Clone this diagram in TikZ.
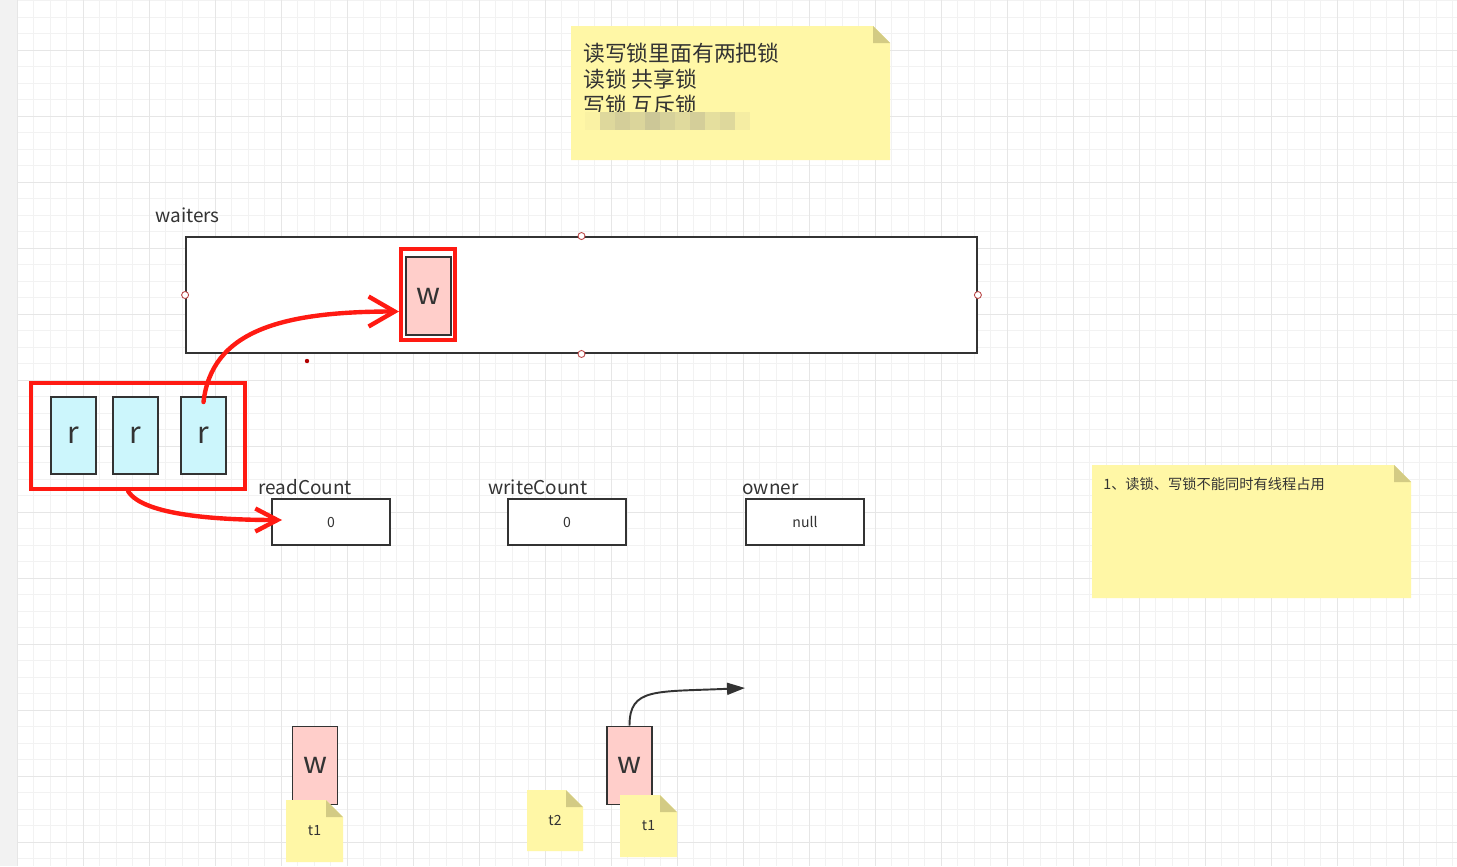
\documentclass[tikz,border=0pt]{standalone}
\usepackage{fontspec}
\setmainfont{Noto Sans CJK SC}
\usetikzlibrary{arrows.meta}

\definecolor{ink}{HTML}{333333}
\definecolor{gridminor}{HTML}{F2F2F2}
\definecolor{gridmajor}{HTML}{E6E6E6}
\definecolor{sidebar}{HTML}{F2F2F2}
\definecolor{notefill}{HTML}{FFF7A6}
\definecolor{notefold}{HTML}{D3CB84}
\definecolor{wpink}{HTML}{FFCECA}
\definecolor{rcyan}{HTML}{CCF6FC}
\definecolor{penred}{HTML}{FF1A12}

% sticky note with folded corner: name, x1, y1, x2, y2
\newcommand{\stickynote}[5]{%
  \fill[notefill] (#2,#3) -- ({#4-17},#3) -- (#4,{#3+17}) -- (#4,#5) -- (#2,#5) -- cycle;
  \fill[notefold] ({#4-17},#3) -- ({#4-17},{#3+17}) -- (#4,{#3+17}) -- cycle;
  \coordinate (#1) at ({(#2+#4)/2},{(#3+#5)/2});
}

\begin{document}
\begin{tikzpicture}[
    x=0.02cm, y=-0.02cm,
    >=Stealth,
    every node/.style={text=ink, inner sep=0pt},
    box/.style={draw=ink, line width=1.1pt, fill=white},
    wbox/.style={box, fill=wpink, minimum width=0.9cm, minimum height=1.56cm,
                 font=\fontsize{17}{17}\selectfont},
    rbox/.style={box, fill=rcyan, minimum width=0.9cm, minimum height=1.54cm,
                 font=\fontsize{17}{17}\selectfont},
    countbox/.style={box, minimum width=2.36cm, minimum height=0.92cm,
                     font=\fontsize{8}{8}\selectfont},
    fieldname/.style={anchor=base west, font=\fontsize{10.8}{10.8}\selectfont},
    redframe/.style={draw=penred, line width=2.3pt},
    redpen/.style={penred, line width=2.5pt, line cap=round, line join=round},
    handle/.style={circle, draw=red!45!gray, fill=white, line width=0.5pt,
                   minimum size=0.14cm},
    notetext/.style={font=\fontsize{8}{8}\selectfont}
]
\useasboundingbox (0,0) rectangle (1457,866);

% canvas grid
\fill[white] (0,0) rectangle (1457,866);
\foreach \x in {17,33.5,...,1457}
    \draw[gridminor, line width=0.45pt] (\x,0) -- (\x,866);
\foreach \y in {0.5,17,...,866}
    \draw[gridminor, line width=0.45pt] (17,\y) -- (1457,\y);
\foreach \x in {17,83,...,1457}
    \draw[gridmajor, line width=0.5pt] (\x,0) -- (\x,866);
\foreach \y in {50,116,...,866}
    \draw[gridmajor, line width=0.5pt] (17,\y) -- (1457,\y);
\fill[sidebar] (0,0) rectangle (17,866);

% top note
\stickynote{lognote}{571}{26}{890}{160}
\node[anchor=north west, align=left, font=\fontsize{12.4}{14.7}\selectfont]
    (locktext) at (583,43) {读写锁里面有两把锁\\读锁 共享锁\\写锁 互斥锁};
% blurred line
\foreach \x/\c in {585/4,600/26,615/34,630/28,645/40,660/32,675/24,690/34,705/20,720/26,735/8}
    \fill[notefill!\the\numexpr100-\c\relax!gray] (\x,112) rectangle ({\x+15},130);

% waiters queue
\node[fieldname] (waitlbl) at (155,222) {waiters};
\node[box, minimum width=15.82cm, minimum height=2.32cm] (queue) at (581.5,295) {};
\foreach \a in {north,south,east,west}
    \node[handle] at (queue.\a) {};
\node[wbox] (wq) at (428.5,296) {w};
\node[redframe, minimum width=1.08cm, minimum height=1.82cm] (wqred) at (428,294.5) {};
\fill[red!70!black] (307,361) circle (2.2);

% readers
\node[rbox] (r1) at (73.5,435.5) {r};
\node[rbox] (r2) at (135.5,435.5) {r};
\node[rbox] (r3) at (203.5,435.5) {r};
\node[redframe, minimum width=4.28cm, minimum height=2.12cm] (rgroup) at (138,436) {};

% counters
\node[fieldname] (rclbl) at (258,494) {readCount};
\node[countbox] (rc) at (331,522) {0};
\node[fieldname] (wclbl) at (488,494) {writeCount};
\node[countbox] (wc) at (567,522) {0};
\node[fieldname] (ownlbl) at (742,494) {owner};
\node[countbox] (own) at (805,522) {null};

% hand drawn arrows
\draw[redpen, -{Straight Barb[length=0.52cm, width=0.6cm]}]
    ([yshift=-0.12cm]r3.north) .. controls +(8,-70) and +(-120,0) ..
    ([yshift=-0.34cm]wqred.west);
\draw[redpen, -{Straight Barb[length=0.44cm, width=0.46cm]}]
    ([xshift=-0.2cm]rgroup.south) .. controls +(15,25) and +(-60,0) ..
    ([xshift=0.22cm, yshift=0.04cm]rc.west);

% right note
\stickynote{rulenote}{1092}{465}{1411}{598}
\node[anchor=base west, font=\fontsize{8.1}{9}\selectfont] (ruletext) at (1103,489)
    {1、读锁、写锁不能同时有线程占用};

% threads
\node[wbox] (w1) at (315,765.5) {w};
\stickynote{t1a}{286}{800}{343}{862}
\node[notetext] at (t1a) {t1};

\stickynote{t2}{527}{790}{583}{851}
\node[notetext] at (t2) {t2};

\node[wbox] (w2) at (629.5,765.5) {w};
\stickynote{t1b}{620}{795}{677}{857}
\node[notetext] at (t1b) {t1};

\coordinate (away) at (745,688);
\draw[ink, line width=1.1pt, -{Triangle[length=0.36cm, width=0.24cm]}]
    (w2.north) .. controls +(0,-38) and +(-90,4) .. (away);

\end{tikzpicture}
\end{document}
